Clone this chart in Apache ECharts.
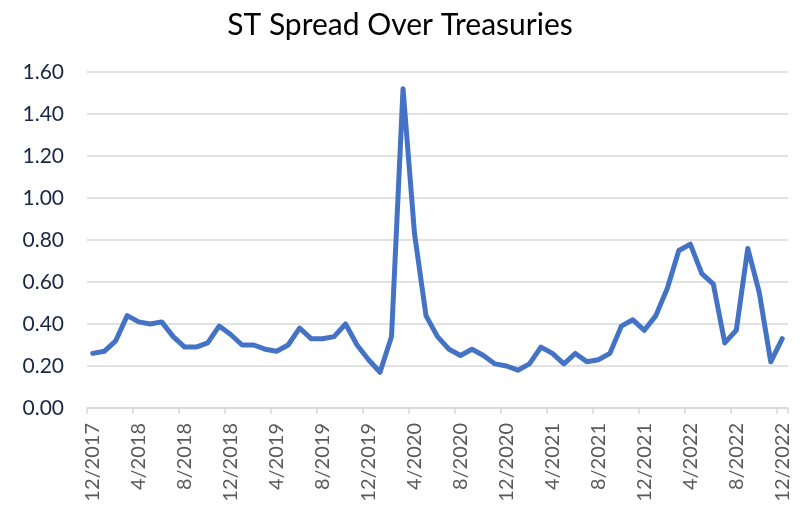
<!DOCTYPE html>
<html>
<head>
<meta charset="utf-8">
<script src="https://cdn.jsdelivr.net/npm/echarts@6/dist/echarts.min.js"></script>
<style>html,body{margin:0;padding:0;background:#fff}#c{width:800px;height:509px}</style>
</head>
<body>
<div id="c"></div>
<script>
const title = "ST Spread Over Treasuries";
const startYear = 2017, startMonth = 12, monthCount = 61;
const categories = [];
for (let i = 0; i < monthCount; i++) {
  const m0 = startMonth - 1 + i;
  categories.push(((m0 % 12) + 1) + "/" + (startYear + Math.floor(m0 / 12)));
}
const spread = [
  0.26, 0.27, 0.32, 0.44, 0.41, 0.40, 0.41, 0.34, 0.29, 0.29,
  0.31, 0.39, 0.35, 0.30, 0.30, 0.28, 0.27, 0.30, 0.38, 0.33,
  0.33, 0.34, 0.40, 0.30, 0.23, 0.17, 0.34, 1.52, 0.83, 0.44,
  0.34, 0.28, 0.25, 0.28, 0.25, 0.21, 0.20, 0.18, 0.21, 0.29,
  0.26, 0.21, 0.26, 0.22, 0.23, 0.26, 0.39, 0.42, 0.37, 0.44,
  0.57, 0.75, 0.78, 0.64, 0.59, 0.31, 0.37, 0.76, 0.55, 0.22,
  0.33
];
const yTicks = { min: 0, max: 1.6, interval: 0.2 };

const chart = echarts.init(document.getElementById('c'), null, { renderer: 'canvas' });
chart.setOption({
  animation: false,
  backgroundColor: '#ffffff',
  title: {
    text: title, left: 'center', top: 5,
    textStyle: { fontFamily: 'Lato', fontSize: 30, fontWeight: 'normal', color: '#000000' }
  },
  grid: { left: 87, right: 12, top: 72, bottom: 101, containLabel: false },
  xAxis: {
    type: 'category', data: categories, boundaryGap: true,
    axisLine: { show: true, lineStyle: { color: '#d9d9d9', width: 1.5 } },
    axisTick: { show: true, interval: 3, length: 6, lineStyle: { color: '#d9d9d9', width: 1.5 } },
    axisLabel: { interval: 3, rotate: 90, margin: 15, color: '#595959', fontFamily: 'Lato', fontSize: 20 },
    splitLine: { show: false }
  },
  yAxis: {
    type: 'value', min: yTicks.min, max: yTicks.max, interval: yTicks.interval,
    axisLine: { show: false }, axisTick: { show: false },
    axisLabel: { formatter: v => v.toFixed(2), color: '#1a2744', fontFamily: 'Lato', fontSize: 21, margin: 23 },
    splitLine: { lineStyle: { color: '#d9d9d9', width: 1.5 } }
  },
  series: [{
    type: 'line', data: spread, showSymbol: false, smooth: false,
    lineStyle: { color: '#4472C4', width: 5, join: 'round', cap: 'round' },
    itemStyle: { color: '#4472C4' }
  }]
});
</script>
</body>
</html>
